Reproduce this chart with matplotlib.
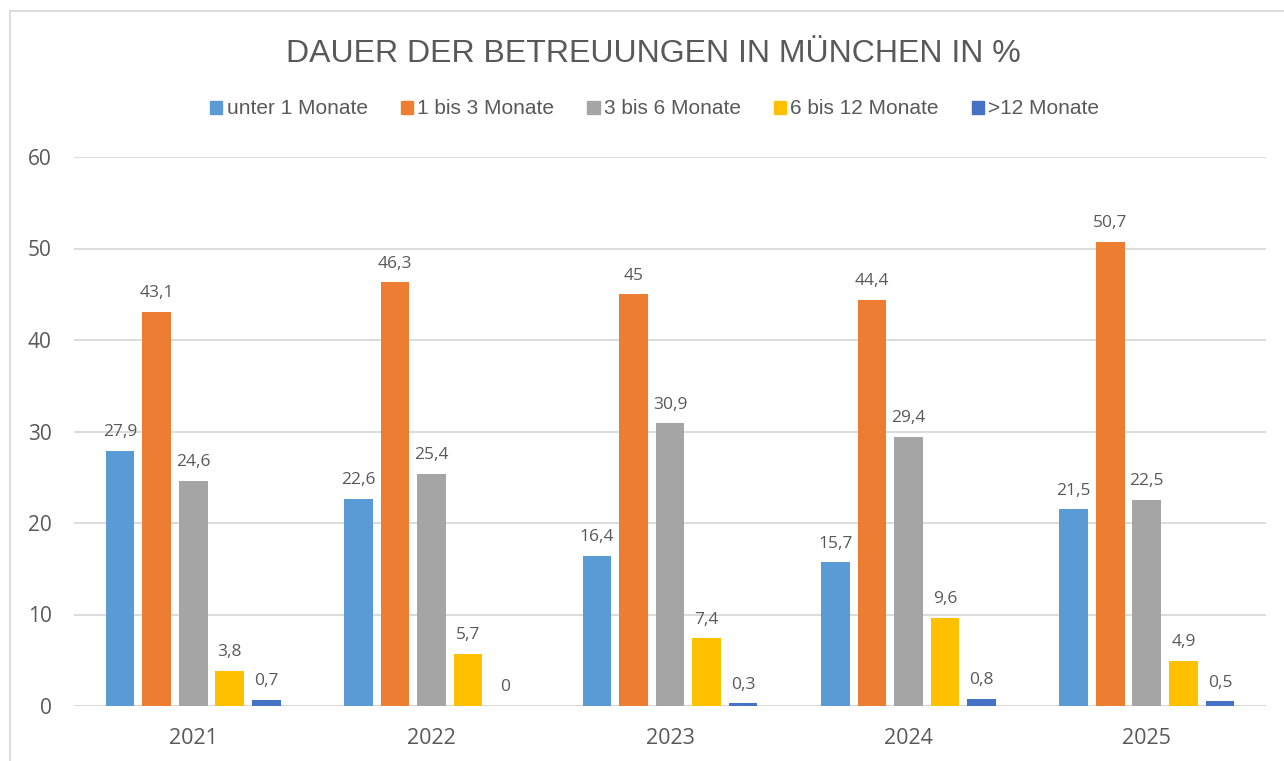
import numpy as np
import matplotlib
matplotlib.use("Agg")
import matplotlib.pyplot as plt
from matplotlib.patches import Patch
from matplotlib.lines import Line2D

years = ["2021", "2022", "2023", "2024", "2025"]
series = ["unter 1 Monate", "1 bis 3 Monate", "3 bis 6 Monate", "6 bis 12 Monate", ">12 Monate"]
unter_1 = [27.9, 22.6, 16.4, 15.7, 21.5]
m1_3 = [43.1, 46.3, 45.0, 44.4, 50.7]
m3_6 = [24.6, 25.4, 30.9, 29.4, 22.5]
m6_12 = [3.8, 5.7, 7.4, 9.6, 4.9]
m12_plus = [0.7, 0.0, 0.3, 0.8, 0.5]
labels = [["27,9", "22,6", "16,4", "15,7", "21,5"],
          ["43,1", "46,3", "45", "44,4", "50,7"],
          ["24,6", "25,4", "30,9", "29,4", "22,5"],
          ["3,8", "5,7", "7,4", "9,6", "4,9"],
          ["0,7", "0", "0,3", "0,8", "0,5"]]
colors = ["#5B9BD5", "#ED7D31", "#A5A5A5", "#FFC000", "#4472C4"]
TXT = "#595959"
GRID = "#D9D9D9"

fig = plt.figure(figsize=(12.84, 7.61), dpi=100)
ax = fig.add_axes([74 / 1284, 1 - 706 / 761, (1266 - 74) / 1284, (706 - 157) / 761])

x = np.arange(len(years))
step, width = 0.1535, 0.12
for i, vals in enumerate([unter_1, m1_3, m3_6, m6_12, m12_plus]):
    pos = x + (i - 2) * step
    ax.bar(pos, vals, width=width, color=colors[i], zorder=3)
    for xp, v, lab in zip(pos, vals, labels[i]):
        ax.annotate(lab, (xp, v), xytext=(0, 13.5), textcoords="offset points",
                    ha="center", va="center", fontsize=12.5, color=TXT,
                    family="Open Sans")

ax.set_xlim(-0.5, 4.5)
ax.set_ylim(0, 60)
ax.set_yticks(range(0, 61, 10))
ax.yaxis.grid(True, color=GRID, lw=1.3)
ax.set_axisbelow(True)
for s in ax.spines.values():
    s.set_visible(False)
ax.axhline(0, color=GRID, lw=1.3, zorder=2)
ax.set_xticks(x)
ax.set_xticklabels(years)
ax.tick_params(axis="both", length=0, colors=TXT)
ax.tick_params(axis="y", pad=16, labelsize=15)
ax.tick_params(axis="x", pad=16, labelsize=15.5)
for t in ax.get_xticklabels() + ax.get_yticklabels():
    t.set_family("Open Sans")

fig.text(0.509, 1 - 62 / 761, "DAUER DER BETREUUNGEN IN MÜNCHEN IN %", ha="center",
         va="baseline", fontsize=23, color=TXT, family="Liberation Sans")

handles = [Patch(color=c) for c in colors]
fig.legend(handles, series, loc="center", bbox_to_anchor=(0.51, 1 - 109 / 761), ncol=5,
           frameon=False, handlelength=0.58, handleheight=0.58, handletextpad=0.2,
           columnspacing=1.6, prop={"family": "Liberation Sans", "size": 15},
           labelcolor=TXT)

# chart border
fig.add_artist(Line2D([10 / 1284, 10 / 1284], [0, 1 - 11 / 761], color=GRID, lw=1.3))
fig.add_artist(Line2D([10 / 1284, 1], [1 - 11 / 761, 1 - 11 / 761], color=GRID, lw=1.3))

fig.savefig("out.png", dpi=100, facecolor="white")
